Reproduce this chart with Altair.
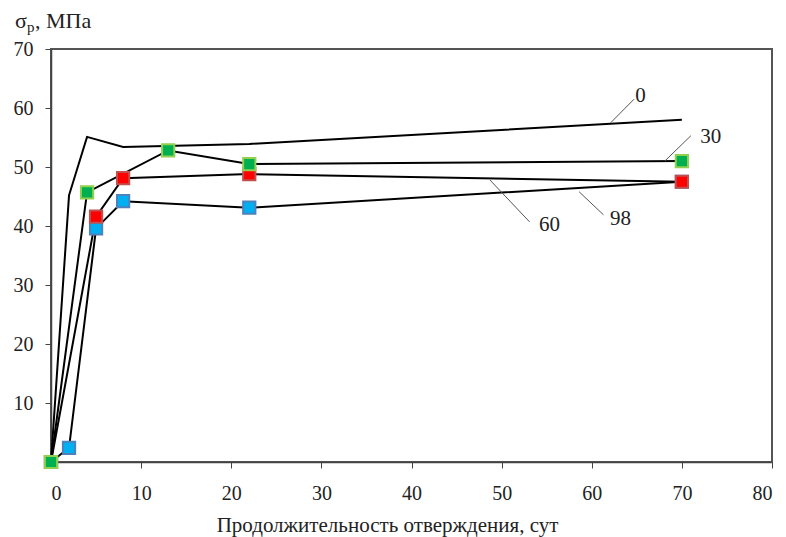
import altair as alt
import pandas as pd

# Tensile strength vs. curing time for four series (labels 0, 30, 60, 98)
days_0 = [0, 2, 4, 8, 22, 70]
sigma_0 = [0, 45.2, 55.1, 53.4, 53.9, 58.0]

days_30 = [0, 4, 13, 22, 70]
sigma_30 = [0, 45.7, 52.8, 50.5, 51.0]

days_60 = [0, 5, 8, 22, 70]
sigma_60 = [0, 41.6, 48.1, 48.8, 47.5]

days_98 = [0, 2, 5, 8, 22, 70]
sigma_98 = [0, 2.4, 39.6, 44.2, 43.1, 47.5]

x_ticks = [0, 10, 20, 30, 40, 50, 60, 70, 80]
y_ticks = [10, 20, 30, 40, 50, 60, 70]

# Curve labels with leader lines (label text, leader start/end, text anchor)
label_text = ["0", "30", "60", "98"]
leader_x1 = [62.1, 68.1, 48.7, 58.6]
leader_y1 = [57.5, 51.0, 47.8, 45.8]
leader_x2 = [64.7, 71.0, 53.1, 61.3]
leader_y2 = [61.5, 55.3, 40.7, 41.9]
text_x = [65.4, 73.2, 55.3, 63.2]
text_y = [62.0, 55.1, 40.2, 41.2]

FONT = "Liberation Serif"
INK = "#222"


def frame(days, sigma, name):
    return pd.DataFrame({"day": days, "sigma": sigma, "series": name,
                         "order": range(len(days))})


df0 = frame(days_0, sigma_0, "0")
df30 = frame(days_30, sigma_30, "30")
df60 = frame(days_60, sigma_60, "60")
df98 = frame(days_98, sigma_98, "98")
lines_df = pd.concat([df0, df30, df60, df98])

x_scale = alt.Scale(domain=[0, 80], nice=False, zero=False)
y_scale = alt.Scale(domain=[0, 70], nice=False)

x_axis = alt.Axis(values=x_ticks, title="Продолжительность отверждения, сут",
                  grid=False, tickSize=6, tickColor="#444", domainColor="#444",
                  domainWidth=1.5, labelFontSize=20, labelColor=INK,
                  labelPadding=15, titleFontSize=21, titleFontWeight="normal",
                  titleColor=INK, titleAlign="center",
                  titleBaseline="alphabetic", titleX=336, titleY=69)
y_axis = alt.Axis(values=y_ticks, title="", grid=False, tickSize=6,
                  tickColor="#444", domainColor="#444", domainWidth=1.5,
                  labelFontSize=20, labelColor=INK, labelPadding=12)

x_enc = alt.X("day:Q", scale=x_scale, axis=x_axis)
y_enc = alt.Y("sigma:Q", scale=y_scale, axis=y_axis)

lines = alt.Chart(lines_df).mark_line(color="black", strokeWidth=2).encode(
    x=x_enc, y=y_enc, detail="series:N", order="order:Q")


def markers(df, fill, stroke):
    return alt.Chart(df).mark_point(shape="square", filled=True, size=150,
                                    fill=fill, stroke=stroke, strokeWidth=2,
                                    opacity=1).encode(
        x=alt.X("day:Q", scale=x_scale), y=alt.Y("sigma:Q", scale=y_scale))


m98 = markers(df98, "#00B0F0", "#4F81BD")
m60 = markers(df60, "#FF0000", "#C0504D")
m30 = markers(df30, "#00B050", "#92D050")

ann_df = pd.DataFrame({"label": label_text, "x1": leader_x1, "y1": leader_y1,
                       "x2": leader_x2, "y2": leader_y2, "tx": text_x,
                       "ty": text_y})

leaders = alt.Chart(ann_df).mark_rule(color="#555", strokeWidth=1).encode(
    x=alt.X("x1:Q", scale=x_scale), y=alt.Y("y1:Q", scale=y_scale),
    x2="x2:Q", y2="y2:Q")

texts = alt.Chart(ann_df).mark_text(fontSize=21, color=INK, align="center",
                                    baseline="middle").encode(
    x=alt.X("tx:Q", scale=x_scale), y=alt.Y("ty:Q", scale=y_scale),
    text="label:N")

# y-axis title "σp, МПа" with a subscript p, placed above the axis
title_df = pd.DataFrame({"t": [0]})
t_sigma = alt.Chart(title_df).mark_text(
    text="σ", fontSize=22, color=INK, align="left", baseline="alphabetic"
).encode(x=alt.value(-36), y=alt.value(-21))
t_sub = alt.Chart(title_df).mark_text(
    text="p", fontSize=15, color=INK, align="left", baseline="alphabetic"
).encode(x=alt.value(-24), y=alt.value(-17))
t_unit = alt.Chart(title_df).mark_text(
    text=", МПа", fontSize=22, color=INK, align="left", baseline="alphabetic"
).encode(x=alt.value(-16), y=alt.value(-21))

chart = alt.layer(lines, leaders, texts, m98, m60, m30,
                  t_sigma, t_sub, t_unit).properties(
    width=721, height=413,
    autosize=alt.AutoSizeParams(type="none"),
    padding={"left": 51, "top": 49, "right": 14, "bottom": 75},
).configure(
    background="white", font=FONT
).configure_axis(
    labelFont=FONT, titleFont=FONT
).configure_text(
    font=FONT
).configure_view(stroke="#555", strokeWidth=2)

chart.save("out.html", embed_options={"renderer": "svg", "actions": False})
